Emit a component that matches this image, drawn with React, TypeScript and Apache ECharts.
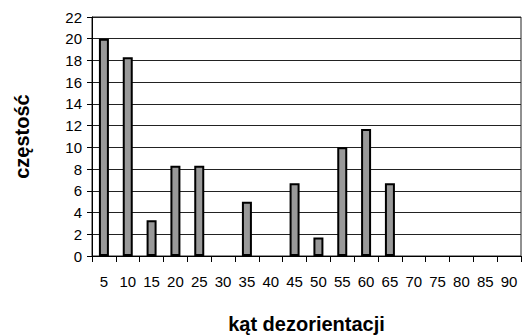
import React, { useEffect, useRef } from "react";
import * as echarts from "echarts";

const categories = ["5", "10", "15", "20", "25", "30", "35", "40", "45", "50", "55", "60", "65", "70", "75", "80", "85", "90"];
const frequencies = [20, 18.3, 3.3, 8.3, 8.3, 0, 5, 0, 6.7, 1.7, 10, 11.7, 6.7, 0, 0, 0, 0, 0];
const yMin = 0;
const yMax = 22;
const yStep = 2;
const xTitle = "kąt dezorientacji";
const yTitle = "częstość";

export default function App() {
  const ref = useRef<HTMLDivElement>(null);
  useEffect(() => {
    if (!ref.current) return;
    const chart = echarts.init(ref.current, null, { renderer: "svg" });
    const font = "'Liberation Sans', Arial, sans-serif";
    chart.setOption({
      animation: false,
      backgroundColor: "#fff",
      grid: {
        left: 92,
        right: 2,
        top: 17,
        bottom: 80,
        outerBoundsMode: "none",
        containLabel: false,
        show: true,
        borderColor: "#222",
        borderWidth: 1,
        backgroundColor: "transparent",
      },
      xAxis: {
        type: "category",
        data: categories,
        boundaryGap: true,
        name: xTitle,
        nameLocation: "middle",
        nameGap: 58,
        nameTextStyle: { fontFamily: font, fontSize: 20, fontWeight: "bold", color: "#000" },
        axisLine: { lineStyle: { color: "#000", width: 1 } },
        axisTick: { show: true, length: 6, lineStyle: { color: "#000" } },
        axisLabel: { fontFamily: font, fontSize: 15, color: "#000", margin: 18, interval: 0 },
        splitLine: { show: false },
      },
      yAxis: {
        type: "value",
        min: yMin,
        max: yMax,
        interval: yStep,
        name: yTitle,
        nameLocation: "middle",
        nameGap: 60,
        nameRotate: 90,
        nameTextStyle: { fontFamily: font, fontSize: 20, fontWeight: "bold", color: "#000" },
        axisLine: { show: true, lineStyle: { color: "#000", width: 1 } },
        axisTick: { show: true, length: 5, lineStyle: { color: "#000" } },
        axisLabel: { fontFamily: font, fontSize: 15, color: "#000", margin: 10 },
        splitLine: { show: true, lineStyle: { color: "#222", width: 1 } },
      },
      series: [
        {
          type: "bar",
          data: frequencies.map((v) => (v === 0 ? null : v)),
          barWidth: 10,
          itemStyle: { color: "#999999", borderColor: "#000", borderWidth: 2 },
        },
      ],
    });
    return () => chart.dispose();
  }, []);
  return <div ref={ref} style={{ width: 523, height: 336, position: "absolute", left: 0, top: 0 }} />;
}
